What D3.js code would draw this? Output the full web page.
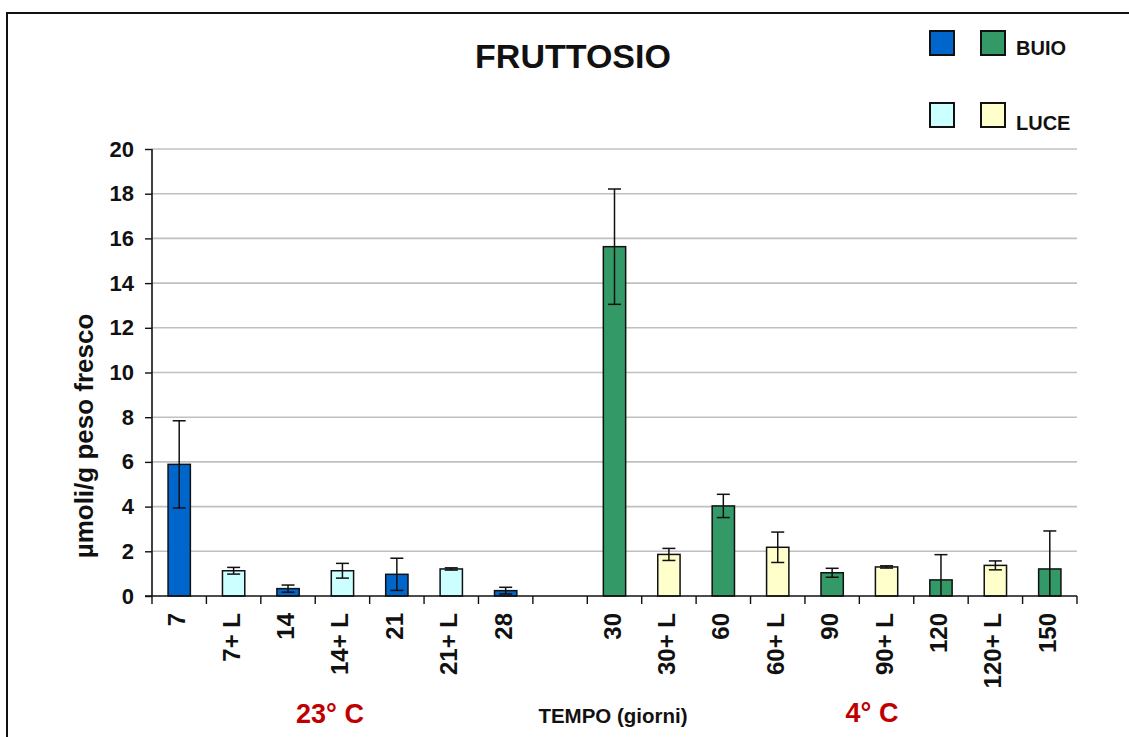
<!DOCTYPE html>
<html>
<head>
<meta charset="utf-8">
<script src="https://cdn.jsdelivr.net/npm/d3@7/dist/d3.min.js"></script>
<style>
  body { margin: 0; background: #fff; }
  svg { display: block; font-family: "Liberation Sans", Arial, sans-serif; font-weight: bold; }
</style>
</head>
<body>
<svg id="chart" width="1129" height="737"></svg>
<script>
'use strict';

// dati
var categorie = ['7', '7+ L', '14', '14+ L', '21', '21+ L', '28', '', '30', '30+ L', '60', '60+ L', '90', '90+ L', '120', '120+ L', '150'];
var valori = [5.89, 1.13, 0.33, 1.13, 0.97, 1.21, 0.24, null, 15.63, 1.86, 4.03, 2.18, 1.04, 1.30, 0.72, 1.37, 1.21];
var errori = [1.95, 0.15, 0.16, 0.33, 0.72, 0.05, 0.15, null, 2.58, 0.27, 0.52, 0.68, 0.20, 0.05, 1.13, 0.20, 1.70];
var condizione = ['buio', 'luce', 'buio', 'luce', 'buio', 'luce', 'buio', null, 'buio', 'luce', 'buio', 'luce', 'buio', 'luce', 'buio', 'luce', 'buio'];
var temperatura = ['23', '23', '23', '23', '23', '23', '23', null, '4', '4', '4', '4', '4', '4', '4', '4', '4'];
var yTicks = [0, 2, 4, 6, 8, 10, 12, 14, 16, 18, 20];

var colori = {
  'buio23': '#0066cc',
  'luce23': '#ccffff',
  'buio4': '#339966',
  'luce4': '#ffffcc'
};

var svg = d3.select('#chart');
var pLeft = 152, pRight = 1077, pTop = 149, pBottom = 596;

// cornice esterna
svg.append('rect')
  .attr('x', 7).attr('y', 13)
  .attr('width', 1200).attr('height', 800)
  .attr('fill', '#fff')
  .attr('stroke', '#111').attr('stroke-width', 2);

var x = d3.scaleBand().domain(categorie).range([pLeft, pRight]).padding(0);
var y = d3.scaleLinear().domain([0, 20]).range([pBottom, pTop]);
var barW = x.bandwidth() * 0.41;

// griglia
svg.append('g').selectAll('line')
  .data(yTicks.filter(function(d){ return d > 0; }))
  .enter().append('line')
  .attr('x1', pLeft).attr('x2', pRight)
  .attr('y1', function(d){ return y(d); })
  .attr('y2', function(d){ return y(d); })
  .attr('stroke', '#c0c0c0').attr('stroke-width', 1.6);

// barre
var idx = d3.range(categorie.length).filter(function(i){ return valori[i] !== null; });

svg.append('g').selectAll('rect')
  .data(idx)
  .enter().append('rect')
  .attr('x', function(i){ return x(categorie[i]) + x.bandwidth() / 2 - barW / 2; })
  .attr('y', function(i){ return y(valori[i]); })
  .attr('width', barW)
  .attr('height', function(i){ return y(0) - y(valori[i]); })
  .attr('fill', function(i){ return colori[condizione[i] + temperatura[i]]; })
  .attr('stroke', '#111').attr('stroke-width', 1.5);

// barre d'errore
var eb = svg.append('g').attr('stroke', '#111').attr('stroke-width', 1.5);
idx.forEach(function(i){
  var cx = x(categorie[i]) + x.bandwidth() / 2;
  var hi = valori[i] + errori[i];
  var lo = Math.max(0, valori[i] - errori[i]);
  eb.append('line').attr('x1', cx).attr('x2', cx).attr('y1', y(hi)).attr('y2', y(lo));
  eb.append('line').attr('x1', cx - 6.5).attr('x2', cx + 6.5).attr('y1', y(hi)).attr('y2', y(hi));
  if (valori[i] - errori[i] > 0) {
    eb.append('line').attr('x1', cx - 6.5).attr('x2', cx + 6.5).attr('y1', y(lo)).attr('y2', y(lo));
  }
});

// asse y
var yAxis = svg.append('g')
  .attr('transform', 'translate(' + pLeft + ',0)')
  .call(d3.axisLeft(y).tickValues(yTicks).tickSize(7).tickPadding(11));
yAxis.select('.domain').attr('stroke', '#111').attr('stroke-width', 1.6).attr('d', 'M0,' + pTop + 'V' + pBottom);
yAxis.selectAll('.tick line').attr('stroke', '#111').attr('stroke-width', 1.4);
yAxis.selectAll('.tick text')
  .attr('font-size', 22).attr('font-weight', 'bold').attr('fill', '#111')
  .attr('font-family', '"Liberation Sans", Arial, sans-serif');

// asse x
svg.append('line')
  .attr('x1', pLeft - 7).attr('x2', pRight)
  .attr('y1', pBottom).attr('y2', pBottom)
  .attr('stroke', '#111').attr('stroke-width', 1.6);

svg.append('g').selectAll('line')
  .data(categorie.concat(['__fine']))
  .enter().append('line')
  .attr('x1', function(d, i){ return pLeft + i * x.step(); })
  .attr('x2', function(d, i){ return pLeft + i * x.step(); })
  .attr('y1', pBottom).attr('y2', pBottom + 8)
  .attr('stroke', '#111').attr('stroke-width', 1.4);

svg.append('g').selectAll('text')
  .data(categorie)
  .enter().append('text')
  .attr('transform', function(d){
    var cx = x(d) + x.bandwidth() / 2 + 6;
    return 'translate(' + cx + ',613) rotate(-90)';
  })
  .attr('text-anchor', 'end')
  .attr('font-size', 24)
  .attr('fill', '#111')
  .text(function(d){ return d; });

// titoli
svg.append('text')
  .attr('x', 573).attr('y', 68)
  .attr('text-anchor', 'middle')
  .attr('font-size', 34).attr('fill', '#111')
  .text('FRUTTOSIO');

svg.append('text')
  .attr('transform', 'translate(93,436) rotate(-90)')
  .attr('text-anchor', 'middle')
  .attr('font-size', 26).attr('fill', '#111')
  .text('µmoli/g peso fresco');

svg.append('text')
  .attr('x', 613).attr('y', 723)
  .attr('text-anchor', 'middle')
  .attr('font-size', 20.5).attr('fill', '#111')
  .text('TEMPO (giorni)');

svg.append('text')
  .attr('x', 330).attr('y', 723)
  .attr('text-anchor', 'middle')
  .attr('font-size', 27).attr('fill', '#c00000')
  .text('23° C');

svg.append('text')
  .attr('x', 872).attr('y', 722)
  .attr('text-anchor', 'middle')
  .attr('font-size', 27).attr('fill', '#c00000')
  .text('4° C');

// legenda
var legenda = [
  { y: 31, colori: [colori.buio23, colori.buio4], testo: 'BUIO', ty: 55 },
  { y: 103, colori: [colori.luce23, colori.luce4], testo: 'LUCE', ty: 130 }
];
var lg = svg.append('g');
legenda.forEach(function(r){
  [930, 981].forEach(function(lx, j){
    lg.append('rect')
      .attr('x', lx).attr('y', r.y)
      .attr('width', 24).attr('height', 24)
      .attr('fill', r.colori[j])
      .attr('stroke', '#111').attr('stroke-width', 2);
  });
  lg.append('text')
    .attr('x', 1016).attr('y', r.ty)
    .attr('font-size', 20).attr('fill', '#111')
    .text(r.testo);
});
</script>
</body>
</html>
